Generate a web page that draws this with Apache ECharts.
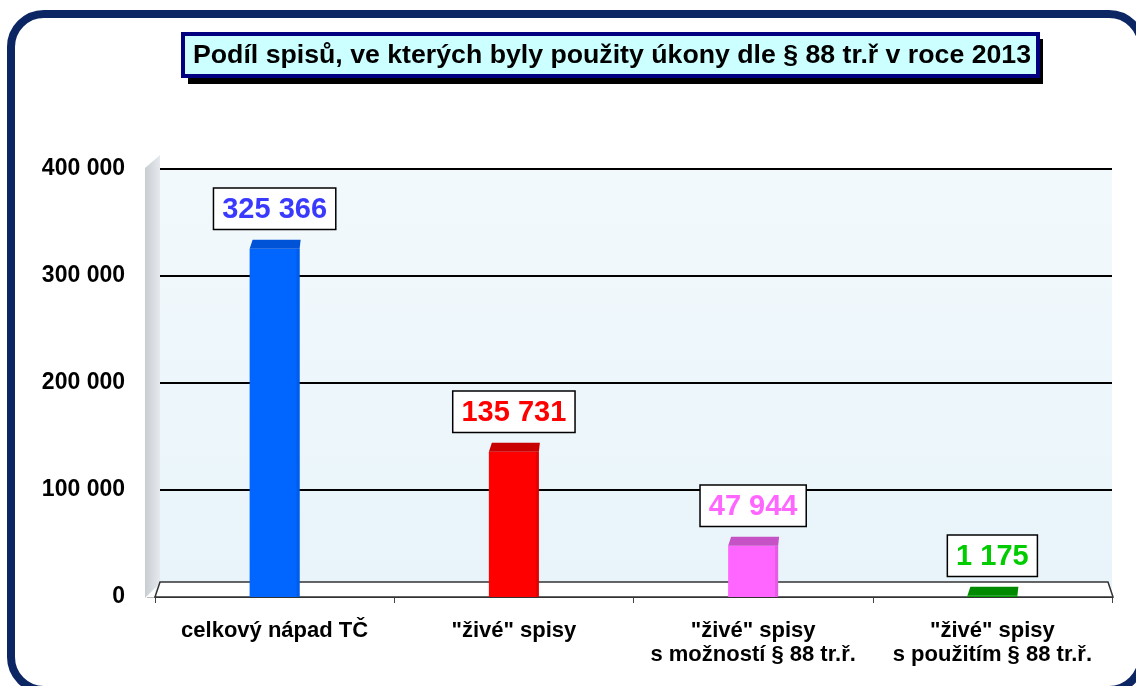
<!DOCTYPE html>
<html>
<head>
<meta charset="utf-8">
<script src="https://cdn.jsdelivr.net/npm/echarts@6/dist/echarts.min.js"></script>
<style>
  html, body { margin: 0; padding: 0; background: #fff; }
  #chart { width: 1136px; height: 686px; }
</style>
</head>
<body>
<div id="chart"></div>
<script>
// data
const categories = [
  'celkový nápad TČ',
  '"živé" spisy',
  '"živé" spisy\ns možností § 88 tr.ř.',
  '"živé" spisy\ns použitím § 88 tr.ř.'
]
const values = [325366, 135731, 47944, 1175]
const barColors = ['#0066ff', '#ff0000', '#ff66ff', '#009900']
const topColors = ['#0052d6', '#c80000', '#c653c6', '#008a00']
const labelColors = ['#3a3aff', '#ff0000', '#ff66ff', '#00cc00']
const yTicks = [0, 100000, 200000, 300000, 400000]

const titleText = 'Podíl spisů, ve kterých byly použity úkony dle § 88 tr.ř v roce 2013'

const BAR_W = 50
const TOP_H = 9

// 325366 -> "325 366"
function fmt(v) {
  return String(v).replace(/\B(?=(\d{3})+(?!\d))/g, ' ')
}

const chart = echarts.init(document.getElementById('chart'))

// darker top face + right edge so the bars look like the 3D original
function renderTop(params, api) {
  const i = api.value(0)
  const top = api.coord([i, api.value(1)])
  const x0 = top[0] - BAR_W / 2
  const x1 = top[0] + BAR_W / 2
  const y = top[1]
  const base = api.coord([i, 0])[1]
  return {
    type: 'group',
    children: [
      {
        type: 'polygon',
        shape: { points: [[x0, y], [x0 + 3, y - TOP_H], [x1 + 1, y - TOP_H], [x1, y]] },
        style: { fill: topColors[i] }
      },
      {
        type: 'rect',
        shape: { x: x1 - 3, y: y, width: 3, height: Math.max(0, base - y) },
        style: { fill: topColors[i], opacity: 0.5 }
      }
    ]
  }
}

let option = {
  backgroundColor: '#fff',
  animation: false,
  textStyle: { fontFamily: 'Liberation Sans, Arial, sans-serif' },
  graphic: [
    // outer navy frame
    {
      type: 'rect', z: 0,
      shape: { x: 11, y: 14, width: 1131, height: 676, r: 33 },
      style: { fill: 'transparent', stroke: '#0b2663', lineWidth: 8 }
    },
    // title box shadow
    {
      type: 'rect', z: 1,
      shape: { x: 188, y: 39, width: 855, height: 45 },
      style: { fill: '#000' }
    },
    // title box
    {
      type: 'rect', z: 2,
      shape: { x: 183, y: 34, width: 855, height: 42 },
      style: { fill: '#ccffff', stroke: '#000080', lineWidth: 4 }
    },
    {
      type: 'text', z: 3,
      left: 193, top: 42,
      style: {
        text: titleText,
        fill: '#000',
        font: 'bold 26.7px "Liberation Sans", Arial, sans-serif'
      }
    },
    // left side wall of the plot
    {
      type: 'polygon', z: 1,
      shape: { points: [[145, 168], [160, 155], [160, 583], [145, 598]] },
      style: {
        fill: new echarts.graphic.LinearGradient(0, 0, 1, 0, [
          { offset: 0, color: '#c8cdd2' },
          { offset: 1, color: '#e6eaee' }
        ])
      }
    },
    // floor strip
    {
      type: 'polygon', z: 1,
      shape: { points: [[160, 582], [1108, 582], [1113, 597], [155, 597]] },
      style: { fill: '#fff', stroke: '#333', lineWidth: 1.5 }
    }
  ],
  grid: {
    left: 155, right: 24, top: 169, bottom: 89,
    show: true,
    borderWidth: 0,
    backgroundColor: new echarts.graphic.LinearGradient(0, 0, 0, 1, [
      { offset: 0, color: '#f2f9fc' },
      { offset: 1, color: '#e8f4fa' }
    ])
  },
  xAxis: {
    type: 'category',
    data: categories,
    axisLine: { show: true, lineStyle: { color: '#444', width: 1.5 } },
    axisTick: { show: true, length: 6, lineStyle: { color: '#444' } },
    axisLabel: {
      color: '#000',
      fontWeight: 'bold',
      fontSize: 22,
      lineHeight: 24,
      margin: 22,
      interval: 0
    }
  },
  yAxis: {
    type: 'value',
    min: 0,
    max: 400000,
    interval: 100000,
    axisLine: { show: false },
    axisTick: { show: true, length: 8, lineStyle: { color: '#bbb' } },
    splitLine: { show: true, lineStyle: { color: '#000', width: 2 } },
    axisLabel: {
      color: '#000',
      fontWeight: 'bold',
      fontSize: 23,
      margin: 30,
      formatter: v => yTicks.includes(v) ? fmt(v) : ''
    }
  },
  series: [
    {
      type: 'bar',
      barWidth: BAR_W,
      z: 2,
      data: values.map((v, i) => ({
        value: v,
        itemStyle: { color: barColors[i] },
        label: { color: labelColors[i] }
      })),
      label: {
        show: true,
        position: 'top',
        distance: 20,
        formatter: p => fmt(p.value),
        fontWeight: 'bold',
        fontSize: 29,
        backgroundColor: '#fff',
        borderColor: '#000',
        borderWidth: 1.5,
        padding: [7, 8, 4, 8]
      }
    },
    {
      type: 'custom',
      z: 3,
      renderItem: renderTop,
      data: values.map((v, i) => [i, v]),
      encode: { x: 0, y: 1 },
      silent: true
    }
  ]
}

chart.setOption(option)
</script>
</body>
</html>
